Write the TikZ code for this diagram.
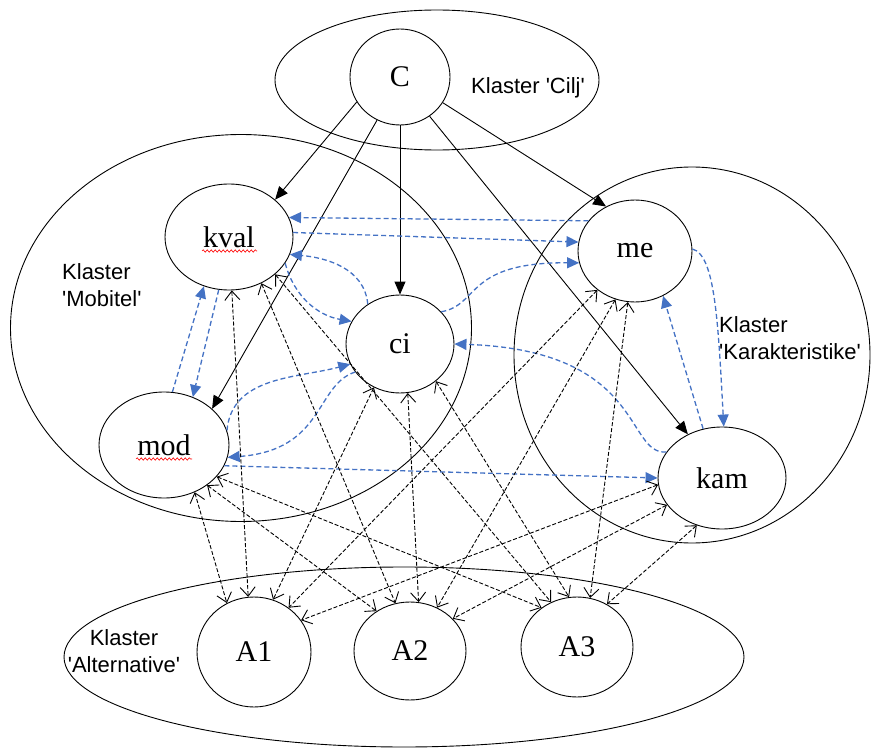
\documentclass[tikz,border=0pt]{standalone}
\usepackage{fontspec}
\setmainfont{Liberation Serif}
\setsansfont{Liberation Sans}
\usetikzlibrary{shapes.geometric,arrows.meta,decorations.pathmorphing}
\definecolor{mblue}{HTML}{4472C4}
\tikzset{
  elem/.style={draw, ellipse, line width=0.9pt, inner sep=0pt, font=\fontsize{30}{36}\selectfont},
  klaster/.style={draw, ellipse, line width=0.9pt, inner sep=0pt},
  lbl/.style={inner sep=0pt, font=\sffamily\fontsize{22}{27}\selectfont},
  goal/.style={line width=0.9pt, -{Triangle[length=13pt,width=11pt]}},
  infl/.style={mblue, line width=1.3pt, dash pattern=on 5pt off 3pt, -{Triangle[length=12pt,width=11pt]}},
  mutual/.style={line width=0.9pt, dash pattern=on 4pt off 2pt,
    {Straight Barb[length=9pt,width=15pt]}-{Straight Barb[length=9pt,width=15pt]}},
  wavy/.style={red, line width=0.6pt, decorate, decoration={snake, amplitude=1.2pt, segment length=4pt}}
}
\begin{document}
\begin{tikzpicture}[x=1pt, y=1pt]
  \useasboundingbox (0,0) rectangle (871,-749);
  % clusters
  \node[klaster, minimum width=324, minimum height=140] (cilj) at (437,-80) {};
  \node[klaster, minimum width=461, minimum height=387] (mobitel) at (241,-328) {};
  \node[klaster, minimum width=356, minimum height=376] (karakt) at (692,-355) {};
  \node[klaster, minimum width=680, minimum height=180] (altern) at (404,-657) {};
  \node[lbl] (tcilj) at (528,-88) {Klaster \textquotesingle Cilj\textquotesingle};
  \node[lbl, anchor=west, align=left] (tmob) at (62,-285) {Klaster\\\textquotesingle Mobitel\textquotesingle};
  \node[lbl, anchor=west, align=left] (tkar) at (719,-338) {Klaster\\\textquotesingle Karakteristike\textquotesingle};
  \node[lbl, align=center] (talt) at (124,-651) {Klaster\\\textquotesingle Alternative\textquotesingle};
  % elements
  \node[elem, minimum width=100, minimum height=96] (C) at (400,-77) {C};
  \node[elem, minimum width=128, minimum height=106] (kval) at (229,-237) {kval};
  \node[elem, minimum width=108, minimum height=98] (ci) at (400,-344) {ci};
  \node[elem, minimum width=130, minimum height=106] (mod) at (164,-445) {mod};
  \node[elem, minimum width=114, minimum height=102] (me) at (635,-251) {me};
  \node[elem, minimum width=128, minimum height=102] (kam) at (722,-478) {kam};
  \node[elem, minimum width=114, minimum height=110] (A1) at (254,-652) {A1};
  \node[elem, minimum width=112, minimum height=98] (A2) at (410,-651) {A2};
  \node[elem, minimum width=112, minimum height=100] (A3) at (577,-647) {A3};
  \draw[wavy] ([xshift=-27pt,yshift=-14pt]kval.center) -- ([xshift=28pt,yshift=-14pt]kval.center);
  \draw[wavy] ([xshift=-28pt,yshift=-14pt]mod.center) -- ([xshift=28pt,yshift=-14pt]mod.center);
  % goal to criteria
  \draw[goal] (C.-150) -- (kval.39);  \draw[goal] (C.-118) -- (mod.37);
  \draw[goal] (C.south) -- (ci.north);
  \draw[goal] (C.-31) -- (me.123);  \draw[goal] (C.-53) -- (kam.128);
  % inner dependences
  \draw[infl] (me.147) -- (kval.18);  \draw[infl] (kval.4) -- (me.171);
  \draw[infl] (ci.129) to[out=95,in=-5] (kval.-16);
  \draw[infl] (kval.-25) to[out=-75,in=170] (ci.155);
  \draw[infl] (ci.38) .. controls (480,-305) and (465,-262) .. (me.-168);
  \draw[infl] (kam.155) .. controls (625,-455) and (645,-350) .. (ci.0);
  \draw[infl] (me.2) .. controls (715,-255) and (718,-320) .. (kam.88);
  \draw[infl] (kam.111) -- (me.-58);
  \draw[infl] (mod.81) -- (kval.-117);  \draw[infl] (kval.-101) -- (mod.59);
  \draw[infl] (mod.13) to[out=85,in=195] (ci.202);
  \draw[infl] (ci.-148) .. controls (315,-385) and (325,-450) .. (mod.-11);
  \draw[infl] (mod.-19) -- (kam.180);
  % alternatives
  \draw[mutual] (mod.-57) -- (A1.119);  \draw[mutual] (mod.-43) -- (A2.130);
  \draw[mutual] (mod.-31) -- (A3.132);
  \draw[mutual] (kval.-87) -- (A1.96);  \draw[mutual] (kval.-55) -- (A2.107);
  \draw[mutual] (kval.-39) -- (A3.120);
  \draw[mutual] (ci.-121) -- (A1.70);  \draw[mutual] (ci.-81) -- (A2.80);
  \draw[mutual] (ci.-46) -- (A3.99);
  \draw[mutual] (me.-134) -- (A1.52);  \draw[mutual] (me.-112) -- (A2.58);
  \draw[mutual] (me.-98) -- (A3.75);
  \draw[mutual] (kam.186) -- (A1.34);  \draw[mutual] (kam.-154) -- (A2.37);
  \draw[mutual] (kam.-118) -- (A3.55);
\end{tikzpicture}
\end{document}
